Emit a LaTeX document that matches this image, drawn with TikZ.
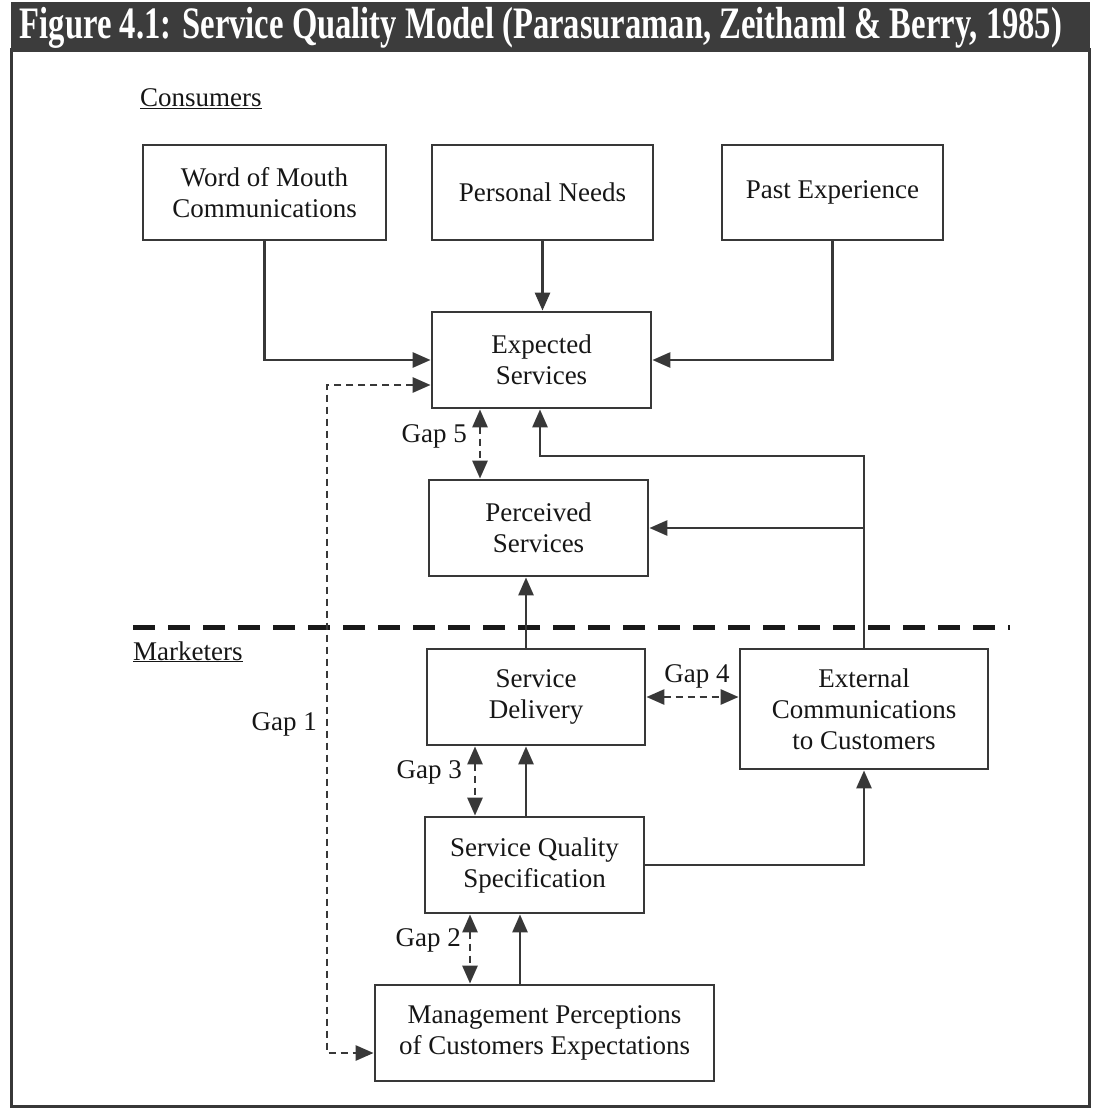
\documentclass[tikz,border=0pt]{standalone}
\usepackage{fontspec}
\setmainfont{Liberation Serif}
\newfontfamily\headfont{Liberation Serif}
\usetikzlibrary{arrows.meta}
\definecolor{ink}{HTML}{161616}
\definecolor{wire}{HTML}{383838}
\definecolor{band}{HTML}{3C3C3C}
\begin{document}
\begin{tikzpicture}[x=1pt,y=-1pt,
  box/.style={draw=wire, line width=2.8pt, rectangle, inner sep=0pt, align=center,
    text=ink, font=\fontsize{27}{31}\selectfont},
  lbl/.style={text=ink, inner sep=0pt, font=\fontsize{27}{31}\selectfont},
  link/.style={draw=wire, line width=2.8pt, -{Triangle[length=18pt,width=15pt]}},
  gaplink/.style={draw=wire, line width=2.8pt, dash pattern=on 7pt off 5pt,
    {Triangle[length=18pt,width=15pt]}-{Triangle[length=18pt,width=15pt]}},
  divider/.style={draw=black!90, line width=5pt, dash pattern=on 22pt off 13pt},
]
\useasboundingbox (0,0) rectangle (1096,1110);

% frame and heading band
\draw[draw=wire, line width=3pt] (11,50) rectangle (1089,1106);
\fill[band] (11,2) rectangle (1090,52);
\node[text=white, inner sep=0pt] (title) at (541,28)
  {\resizebox{1042pt}{\height}{\headfont\bfseries\fontsize{45}{47}\selectfont
   Figure 4.1: Service Quality Model (Parasuraman, Zeithaml \& Berry, 1985)}};

% group labels
\node[lbl, anchor=base west] (cons) at (140,107) {\underline{Consumers}};
\node[lbl, anchor=base west] (mkt) at (133,660) {\underline{Marketers}};

% consumer side
\node[box, minimum width=243pt, minimum height=95pt] (wom) at (264.5,192.5) {Word of Mouth\\Communications};
\node[box, minimum width=221pt, minimum height=95pt] (pn) at (542.5,192.5) {Personal Needs};
\node[box, minimum width=221pt, minimum height=95pt] (pe) at (832.5,192.5) {Past Experience};
\node[box, minimum width=219pt, minimum height=96pt] (es) at (541.5,360) {Expected\\Services};
\node[box, minimum width=219pt, minimum height=96pt] (ps) at (538.5,528) {Perceived\\Services};

% marketer side
\node[box, minimum width=218pt, minimum height=96pt] (sd) at (536,697) {Service\\Delivery};
\node[box, minimum width=248pt, minimum height=120pt] (ec) at (864,709) {External\\Communications\\to Customers};
\node[box, minimum width=219pt, minimum height=96pt] (sqs) at (534.5,865) {Service Quality\\Specification};
\node[box, minimum width=339pt, minimum height=96pt] (mp) at (544.5,1033) {Management Perceptions\\of Customers Expectations};

% consumer / marketer boundary
\coordinate (divL) at (133,627);
\coordinate (divR) at (1010,627);
\draw[divider] (divL) -- (divR);

% helper columns and rows
\coordinate (g1x) at (327,0);
\coordinate (g5x) at (480,0);
\coordinate (g3x) at (475,0);
\coordinate (g2x) at (470,0);
\coordinate (upx) at (526,0);
\coordinate (mpx) at (520,0);
\coordinate (fb) at (0,456);
\coordinate (g1out) at ([yshift=-25pt]es.west);
\coordinate (g1in) at ([yshift=-20pt]mp.west);

% solid flows
\draw[link] (wom.south) |- (es.west);
\draw[link] (pn.south) -- (pn.south |- es.north);
\draw[link] (pe.south) |- (es.east);
\draw[link] (ec.north) -- (ec.north |- fb) -| ([xshift=-1.5pt]es.south);
\draw[link] (ec.north |- ps.east) -- (ps.east);
\draw[link] (sd.north -| upx) -- (ps.south -| upx);
\draw[link] (sqs.north -| upx) -- (sd.south -| upx);
\draw[link] (sqs.east) -| (ec.south);
\draw[link] (mp.north -| mpx) -- (sqs.south -| mpx);

% gaps
\draw[gaplink] (g1out) -| (g1in -| g1x) -- (g1in);
\draw[gaplink] (es.south -| g5x) -- (ps.north -| g5x);
\draw[gaplink] (sd.east) -- (sd.east -| ec.west);
\draw[gaplink] (sd.south -| g3x) -- (sqs.north -| g3x);
\draw[gaplink] (sqs.south -| g2x) -- (mp.north -| g2x);

\node[lbl, anchor=east] (gap1) at (317,724) {Gap 1};
\node[lbl, anchor=east] (gap2) at (461,940) {Gap 2};
\node[lbl, anchor=east] (gap3) at (462,772) {Gap 3};
\node[lbl] (gap4) at (697,676) {Gap 4};
\node[lbl, anchor=east] (gap5) at (467,436) {Gap 5};
\end{tikzpicture}
\end{document}
